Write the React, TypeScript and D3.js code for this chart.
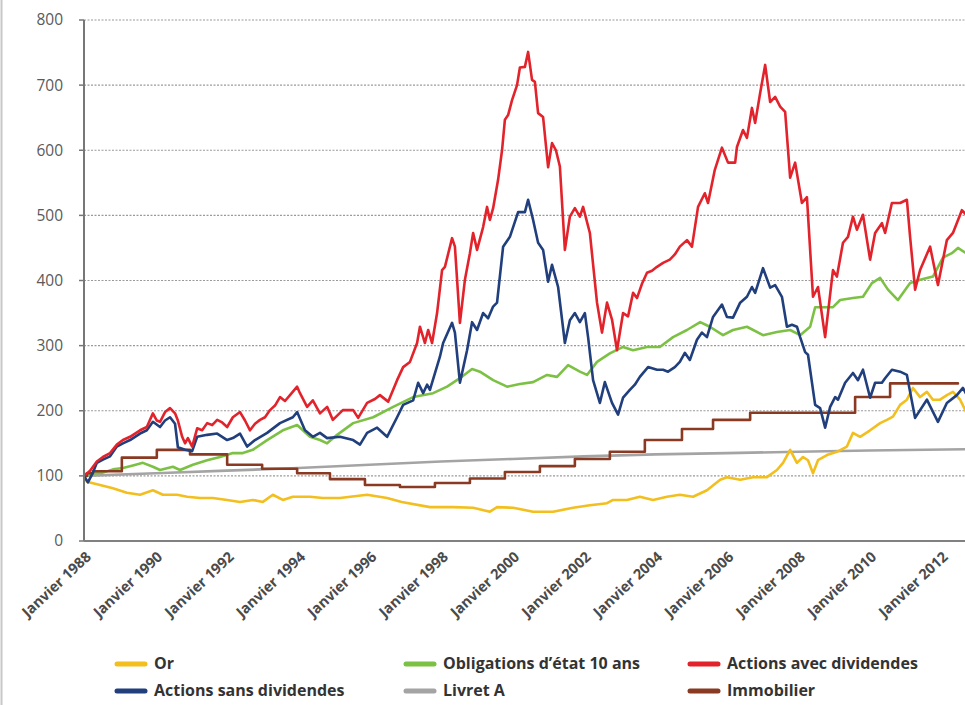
import React from 'react';
import * as d3 from 'd3';

type Pt = [number, number];

// valeurs (année décimale, indice base 100 en janvier 1988)
const actionsAvecDividendes: Pt[] = [
  [1988.0, 100], [1988.17, 108], [1988.36, 122], [1988.53, 129], [1988.73, 135], [1988.92, 148],
  [1989.09, 155], [1989.29, 160], [1989.57, 170], [1989.76, 175], [1989.93, 196], [1990.04, 185],
  [1990.13, 183], [1990.27, 198], [1990.41, 204], [1990.55, 196], [1990.63, 185], [1990.75, 160],
  [1990.83, 150], [1990.91, 158], [1991.03, 145], [1991.17, 173], [1991.31, 170], [1991.45, 181],
  [1991.59, 178], [1991.73, 186], [1991.87, 182], [1992.01, 175], [1992.17, 190], [1992.37, 198],
  [1992.51, 185], [1992.65, 170], [1992.79, 180], [1992.93, 186], [1993.07, 190], [1993.21, 201],
  [1993.35, 208], [1993.49, 221], [1993.63, 215], [1993.77, 224], [1993.97, 237], [1994.05, 227],
  [1994.25, 206], [1994.41, 216], [1994.61, 196], [1994.81, 206], [1994.97, 186], [1995.25, 201],
  [1995.54, 201], [1995.68, 189], [1995.93, 212], [1996.15, 218], [1996.29, 224], [1996.52, 214],
  [1996.77, 247], [1996.94, 267], [1997.13, 275], [1997.33, 304], [1997.41, 329], [1997.55, 304],
  [1997.64, 324], [1997.75, 304], [1997.89, 350], [1998.03, 416], [1998.11, 421], [1998.31, 465],
  [1998.39, 452], [1998.53, 335], [1998.67, 401], [1998.81, 442], [1998.9, 473], [1999.01, 447],
  [1999.18, 482], [1999.29, 513], [1999.37, 493], [1999.46, 511], [1999.6, 555], [1999.71, 600],
  [1999.79, 647], [1999.88, 654], [1999.99, 677], [2000.13, 700], [2000.21, 727], [2000.35, 728],
  [2000.44, 751], [2000.55, 708], [2000.63, 705], [2000.72, 657], [2000.86, 651], [2001.0, 574],
  [2001.11, 611], [2001.22, 600], [2001.33, 575], [2001.47, 447], [2001.61, 498], [2001.75, 511],
  [2001.89, 498], [2001.98, 513], [2002.17, 473], [2002.37, 366], [2002.51, 320], [2002.65, 366],
  [2002.79, 340], [2002.93, 293], [2003.1, 350], [2003.24, 345], [2003.38, 381], [2003.49, 373],
  [2003.63, 395], [2003.77, 412], [2003.91, 415], [2004.05, 421], [2004.22, 427], [2004.41, 432],
  [2004.55, 440], [2004.69, 452], [2004.89, 462], [2005.03, 452], [2005.2, 513], [2005.39, 534],
  [2005.48, 519], [2005.67, 570], [2005.87, 604], [2006.04, 581], [2006.24, 581], [2006.29, 605],
  [2006.46, 631], [2006.57, 619], [2006.71, 665], [2006.8, 642], [2006.94, 688], [2007.08, 731],
  [2007.22, 674], [2007.36, 682], [2007.5, 667], [2007.64, 659], [2007.78, 558], [2007.92, 581],
  [2008.11, 519], [2008.25, 528], [2008.42, 375], [2008.56, 390], [2008.76, 313], [2008.98, 416],
  [2009.09, 406], [2009.26, 458], [2009.4, 467], [2009.54, 498], [2009.65, 478], [2009.82, 501],
  [2010.02, 432], [2010.16, 473], [2010.35, 488], [2010.44, 473], [2010.63, 519], [2010.86, 519],
  [2011.05, 524], [2011.14, 467], [2011.28, 386], [2011.42, 416], [2011.7, 452], [2011.92, 393],
  [2012.17, 462], [2012.34, 473], [2012.59, 508], [2012.71, 501],
];

const actionsSansDividendes: Pt[] = [
  [1988.0, 100], [1988.11, 90], [1988.25, 105], [1988.36, 120], [1988.53, 125], [1988.73, 130],
  [1988.92, 145], [1989.09, 150], [1989.29, 155], [1989.57, 165], [1989.76, 170], [1989.93, 183],
  [1990.13, 175], [1990.27, 185], [1990.41, 190], [1990.55, 180], [1990.63, 144], [1990.83, 140],
  [1991.03, 138], [1991.17, 160], [1991.45, 163], [1991.73, 165], [1992.01, 155], [1992.17, 158],
  [1992.37, 165], [1992.57, 145], [1992.79, 155], [1993.13, 166], [1993.49, 181], [1993.85, 190],
  [1993.97, 198], [1994.19, 170], [1994.41, 160], [1994.61, 166], [1994.81, 158], [1995.17, 160],
  [1995.54, 155], [1995.73, 148], [1995.93, 166], [1996.21, 174], [1996.49, 160], [1996.77, 190],
  [1996.94, 209], [1997.22, 216], [1997.36, 243], [1997.5, 227], [1997.61, 240], [1997.69, 232],
  [1997.97, 283], [1998.06, 304], [1998.31, 335], [1998.39, 320], [1998.53, 243], [1998.73, 293],
  [1998.87, 336], [1999.01, 324], [1999.18, 350], [1999.32, 342], [1999.46, 360], [1999.57, 366],
  [1999.74, 452], [1999.93, 467], [2000.16, 505], [2000.35, 505], [2000.44, 524], [2000.58, 493],
  [2000.72, 458], [2000.86, 447], [2001.0, 398], [2001.11, 424], [2001.28, 390], [2001.47, 304],
  [2001.61, 339], [2001.75, 350], [2001.89, 336], [2002.03, 350], [2002.12, 313], [2002.26, 247],
  [2002.45, 212], [2002.59, 244], [2002.79, 212], [2002.96, 194], [2003.1, 220], [2003.29, 232],
  [2003.43, 240], [2003.57, 252], [2003.8, 267], [2004.05, 263], [2004.22, 263], [2004.36, 260],
  [2004.55, 267], [2004.69, 275], [2004.83, 289], [2004.97, 278], [2005.17, 309], [2005.31, 320],
  [2005.45, 313], [2005.62, 344], [2005.87, 363], [2006.01, 344], [2006.18, 343], [2006.38, 366],
  [2006.57, 375], [2006.71, 390], [2006.8, 381], [2007.02, 419], [2007.22, 389], [2007.36, 393],
  [2007.55, 375], [2007.69, 329], [2007.83, 332], [2007.97, 329], [2008.06, 313], [2008.2, 290],
  [2008.28, 286], [2008.48, 209], [2008.62, 204], [2008.76, 174], [2008.9, 206], [2009.04, 221],
  [2009.12, 217], [2009.32, 243], [2009.54, 258], [2009.68, 247], [2009.82, 263], [2010.02, 220],
  [2010.16, 243], [2010.35, 243], [2010.44, 250], [2010.63, 263], [2010.86, 260], [2011.05, 255],
  [2011.28, 189], [2011.42, 201], [2011.61, 217], [2011.92, 183], [2012.17, 212], [2012.45, 224],
  [2012.62, 235], [2012.71, 226],
];

const obligations10ans: Pt[] = [
  [1988.0, 100], [1988.31, 104], [1988.53, 105], [1988.81, 110], [1989.09, 112], [1989.37, 116],
  [1989.65, 120], [1989.93, 114], [1990.13, 109], [1990.49, 114], [1990.69, 109], [1991.05, 117],
  [1991.45, 124], [1991.81, 129], [1992.17, 135], [1992.45, 135], [1992.73, 140], [1993.13, 155],
  [1993.57, 170], [1993.97, 178], [1994.33, 160], [1994.61, 155], [1994.81, 150], [1995.09, 163],
  [1995.54, 181], [1996.1, 190], [1996.66, 206], [1997.22, 221], [1997.78, 227], [1998.17, 237],
  [1998.53, 250], [1998.87, 264], [1999.09, 260], [1999.46, 247], [1999.85, 237], [2000.21, 241],
  [2000.58, 244], [2000.97, 255], [2001.25, 252], [2001.56, 270], [2001.89, 260], [2002.09, 255],
  [2002.37, 275], [2002.73, 288], [2003.1, 298], [2003.38, 293], [2003.77, 298], [2004.13, 298],
  [2004.5, 313], [2004.89, 324], [2005.26, 336], [2005.53, 329], [2005.9, 316], [2006.18, 324],
  [2006.57, 329], [2007.02, 316], [2007.41, 321], [2007.78, 324], [2008.06, 316], [2008.34, 329],
  [2008.48, 359], [2008.7, 359], [2008.98, 359], [2009.18, 370], [2009.54, 373], [2009.82, 375],
  [2010.07, 396], [2010.3, 404], [2010.52, 386], [2010.8, 370], [2011.14, 396], [2011.42, 401],
  [2011.78, 406], [2012.06, 435], [2012.31, 442], [2012.48, 450], [2012.71, 442],
];

const or: Pt[] = [
  [1988.0, 100], [1988.08, 91], [1988.45, 86], [1988.81, 81], [1989.2, 74], [1989.57, 71],
  [1989.93, 78], [1990.21, 71], [1990.61, 71], [1990.89, 68], [1991.25, 66], [1991.61, 66],
  [1992.01, 63], [1992.37, 60], [1992.73, 63], [1993.01, 60], [1993.29, 71], [1993.57, 63],
  [1993.85, 68], [1994.33, 68], [1994.69, 66], [1995.17, 66], [1995.93, 71], [1996.49, 66],
  [1996.9, 60], [1997.69, 52], [1998.34, 52], [1998.9, 51], [1999.37, 45], [1999.57, 52],
  [2000.02, 51], [2000.58, 45], [2001.14, 45], [2001.7, 51], [2002.17, 55], [2002.65, 58],
  [2002.82, 63], [2003.21, 63], [2003.57, 68], [2003.94, 63], [2004.33, 68], [2004.69, 71],
  [2005.06, 68], [2005.45, 78], [2005.82, 94], [2006.01, 98], [2006.38, 94], [2006.74, 98],
  [2007.13, 98], [2007.41, 109], [2007.58, 120], [2007.78, 140], [2007.97, 120], [2008.14, 129],
  [2008.28, 124], [2008.42, 104], [2008.56, 124], [2008.81, 132], [2009.09, 137], [2009.37, 145],
  [2009.54, 166], [2009.74, 160], [2010.02, 170], [2010.3, 181], [2010.49, 186], [2010.66, 191],
  [2010.86, 209], [2011.05, 217], [2011.22, 235], [2011.42, 221], [2011.61, 229], [2011.78, 217],
  [2011.98, 217], [2012.17, 224], [2012.34, 229], [2012.54, 217], [2012.71, 198],
];

const livretA: Pt[] = [
  [1988, 100], [1990, 104], [1992, 108], [1994, 112], [1996, 117], [1998, 122], [2000, 126],
  [2002, 130], [2004, 133], [2006, 135], [2008, 137], [2010, 139], [2012.71, 141],
];

// paliers annuels
const immobilier: Pt[] = [
  [1988.0, 100], [1988.08, 104], [1988.25, 107], [1989.06, 128], [1990.04, 140], [1990.97, 133],
  [1992.01, 117], [1992.99, 111], [1993.97, 104], [1994.89, 95], [1995.87, 86], [1996.85, 83],
  [1997.83, 89], [1998.81, 96], [1999.79, 106], [2000.77, 115], [2001.75, 126], [2002.73, 137],
  [2003.71, 155], [2004.75, 172], [2005.62, 186], [2006.66, 197], [2009.6, 221], [2010.58, 242],
  [2012.48, 242],
];

const yTicks = [0, 100, 200, 300, 400, 500, 600, 700, 800];
const xTickYears = [1988, 1990, 1992, 1994, 1996, 1998, 2000, 2002, 2004, 2006, 2008, 2010, 2012];

const colors: Record<string, string> = {
  'Or': '#f2bf1e',
  'Actions sans dividendes': '#203f7c',
  "Obligations d’état 10 ans": '#7cc144',
  'Livret A': '#a4a4a4',
  'Actions avec dividendes': '#e2232b',
  'Immobilier': '#8a3a22',
};

const seriesData: Record<string, Pt[]> = {
  'Or': or,
  'Actions sans dividendes': actionsSansDividendes,
  "Obligations d’état 10 ans": obligations10ans,
  'Livret A': livretA,
  'Actions avec dividendes': actionsAvecDividendes,
  'Immobilier': immobilier,
};

// ordre de dessin (dernier au-dessus)
const drawOrder = ['Livret A', 'Or', "Obligations d’état 10 ans", 'Immobilier', 'Actions sans dividendes', 'Actions avec dividendes'];

const W = 965;
const H = 705;
const left = 84;
const top = 20;
const bottom = 541;

export default function App() {
  const x = d3.scaleLinear().domain([1988, 2012.71]).range([left, left + 24.71 * 35.7]);
  const y = d3.scaleLinear().domain([0, 800]).range([bottom, top]);

  const line = d3.line<Pt>().x(d => x(d[0])).y(d => y(d[1]));
  const stepLine = d3.line<Pt>().x(d => x(d[0])).y(d => y(d[1])).curve(d3.curveStepAfter);

  const font = '"Open Sans", "Noto Sans", sans-serif';

  // légende : 3 colonnes x 2 lignes
  const legendCols = [117, 406, 690];
  const legendRowsY = [663, 690];
  const legendLayout = [
    ['Or', 'Actions sans dividendes'],
    ["Obligations d’état 10 ans", 'Livret A'],
    ['Actions avec dividendes', 'Immobilier'],
  ];

  return (
    <svg width={W} height={H} style={{ position: 'absolute', left: 0, top: 0, background: '#fff' }} fontFamily={font}>
      <defs>
        <clipPath id="plot">
          <rect x={left} y={0} width={W - left} height={bottom} />
        </clipPath>
      </defs>
      <rect x={0} y={0} width={W} height={H} fill="#fff" />
      <line x1={1.5} x2={1.5} y1={0} y2={H} stroke="#c8c8c8" strokeWidth={2} />

      {/* grille */}
      {yTicks.filter(t => t > 0).map(t => (
        <line key={t} x1={left} x2={W} y1={y(t)} y2={y(t)} stroke="#9a9a9a" strokeWidth={1.2} strokeDasharray="2,1.5" />
      ))}
      {yTicks.map(t => (
        <g key={'yt' + t}>
          <line x1={left - 5} x2={left} y1={y(t)} y2={y(t)} stroke="#777" strokeWidth={1.5} />
          <text x={63} y={y(t)} dy="0.35em" textAnchor="end" fontSize={15.5} fill="#5a5a5a">{t}</text>
        </g>
      ))}

      {/* séries */}
      <g clipPath="url(#plot)" fill="none" strokeLinejoin="round" strokeLinecap="round">
        {drawOrder.map(name => (
          <path
            key={name}
            d={(name === 'Immobilier' ? stepLine : line)(seriesData[name]) || ''}
            stroke={colors[name]}
            strokeWidth={2.6}
          />
        ))}
      </g>

      {/* axes */}
      <line x1={left} x2={left} y1={top} y2={bottom} stroke="#777" strokeWidth={2} />
      <line x1={left} x2={W} y1={bottom} y2={bottom} stroke="#808080" strokeWidth={2} />

      {xTickYears.map(yr => (
        <text
          key={yr}
          transform={`translate(${x(yr) + 8},${558}) rotate(-43)`}
          textAnchor="end"
          fontSize={14.5}
          fontWeight="bold"
          fill="#4a4a4a"
        >
          {'Janvier ' + yr}
        </text>
      ))}

      {/* légende */}
      {legendLayout.map((col, ci) =>
        col.map((name, ri) => (
          <g key={name}>
            <line
              x1={legendCols[ci]}
              x2={legendCols[ci] + 28}
              y1={legendRowsY[ri] + 1}
              y2={legendRowsY[ri] + 1}
              stroke={colors[name]}
              strokeWidth={5}
              strokeLinecap="round"
            />
            <text x={legendCols[ci] + 37} y={legendRowsY[ri]} dy="0.35em" fontSize={16} fontWeight="bold" fill="#333">
              {name}
            </text>
          </g>
        ))
      )}
    </svg>
  );
}
